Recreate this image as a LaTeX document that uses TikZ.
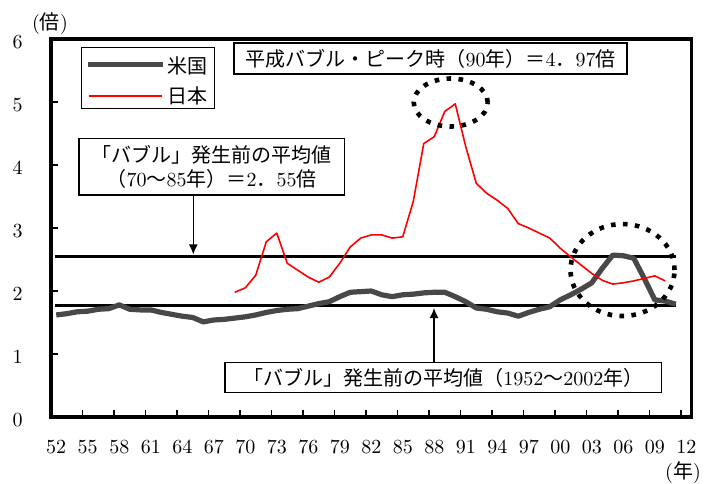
\documentclass[tikz,border=0pt]{standalone}
\usepackage{fontspec}
\newfontfamily\jp{Noto Sans CJK JP}
\usetikzlibrary{arrows.meta}
\definecolor{usgray}{RGB}{72,72,72}
\tikzset{
  usline/.style={usgray, line width=2.6pt, line join=round},
  jpline/.style={red, line width=0.8pt, line join=round},
  avgline/.style={line width=1.7pt},
  ring/.style={line width=2.3pt, dash pattern=on 2.3pt off 3.7pt},
  box/.style={draw, line width=0.8pt, fill=white, inner sep=0pt},
  >={Latex[length=5pt,width=4.5pt]}
}
\begin{document}
\begin{tikzpicture}[x=5.25pt, y=31.5pt]
  \useasboundingbox (-4.857,-1.0476) rectangle (62.286,6.619);

  % axes
  \foreach \k in {1,...,5}
    \draw[line width=0.6pt] (0,\k) -- ++(3.5pt,0pt);
  \foreach \k in {3,6,...,60}
    \draw[line width=0.6pt] (\k,0) -- ++(0pt,3.5pt);
  \foreach \k in {0,...,6}
    \node[yshift=-1.5pt] at (-3.19,\k) {\k};
  \foreach \lab [count=\k from 0] in {52,55,58,61,64,67,70,73,76,79,82,85,88,91,94,97,00,03,06,09,12}
    \node at (3*\k+0.5,-0.476) {\lab};
  \node (unitv) at (-0.095,6.238) {({\jp 倍})};
  \node (unith) at (60.19,-0.889) {({\jp 年})};

  % average lines
  \draw[avgline] (0.4,2.55) -- (59.5,2.55);
  \draw[avgline] (0.4,1.77) -- (59.5,1.77);

  % data
  \draw[usline] (0.5,1.62) \foreach \v [count=\k from 1] in
    {1.64,1.67,1.68,1.71,1.72,1.78,1.71,1.70,1.70,1.66,
     1.63,1.60,1.58,1.51,1.54,1.55,1.57,1.59,1.62,1.66,
     1.69,1.71,1.72,1.76,1.80,1.83,1.91,1.98,1.99,2.00,
     1.94,1.91,1.94,1.95,1.97,1.98,1.98,1.91,1.83,1.73,
     1.71,1.67,1.65,1.60,1.66,1.71,1.75,1.86,1.94,2.03,
     2.13,2.36,2.57,2.56,2.52,2.20,1.86,1.84,1.79}
    { -- (\k+0.5,\v)};
  \draw[jpline] (17.5,1.98) \foreach \v [count=\k from 18] in
    {2.05,2.25,2.78,2.92,2.44,2.33,2.22,2.14,2.22,2.44,
     2.70,2.84,2.89,2.89,2.84,2.86,3.42,4.34,4.45,4.85,
     4.97,4.29,3.71,3.55,3.44,3.31,3.07,3.00,2.92,2.84,
     2.68,2.54,2.41,2.28,2.17,2.11,2.13,2.16,2.20,2.24,2.16}
    { -- (\k+0.5,\v)};

  % rings
  \draw[ring] (38.07,4.992) ellipse [x radius=18.5pt, y radius=12pt];
  \draw[ring] (54.43,2.333) ellipse [x radius=26pt, y radius=23pt];

  \draw[line width=1.7pt] (0,0) rectangle (61,6);

  % legend
  \node[box, minimum width=66.3pt, minimum height=30.3pt] (legend) at (9.238,5.381) {};
  \draw[usline] (3.52,5.598) -- (10.67,5.598);
  \node[anchor=west, inner sep=0pt] (us) at (11.05,5.57) {\jp 米国};
  \draw[jpline] (3.62,5.095) -- (10.57,5.095);
  \node[anchor=west, inner sep=0pt] (jp) at (11.05,5.095) {\jp 日本};

  % notes
  \node[box, minimum width=196.5pt, minimum height=15.3pt] (peak) at (36.16,5.69)
    {{\jp 平成バブル・ピーク時（}90{\jp 年）＝}4{\jp ．}97{\jp 倍}};
  \node[box, minimum width=132.7pt, minimum height=28.3pt, align=center] (avg70) at (15.30,3.973)
    {{\jp 「バブル」発生前の平均値}\\{\jp （}70{\jp 〜}85{\jp 年）＝}2{\jp ．}55{\jp 倍}};
  \node[box, minimum width=218.3pt, minimum height=15pt] (avgall) at (37.37,0.624)
    {{\jp 「バブル」発生前の平均値（}1952{\jp 〜}2002{\jp 年）}};

  \coordinate (hi) at (13.55,2.58);
  \coordinate (lo) at (36.48,1.73);
  \draw[->, line width=0.7pt] (avg70.south -| hi) -- (hi);
  \draw[->, line width=0.7pt] (avgall.north -| lo) -- (lo);
\end{tikzpicture}
\end{document}
